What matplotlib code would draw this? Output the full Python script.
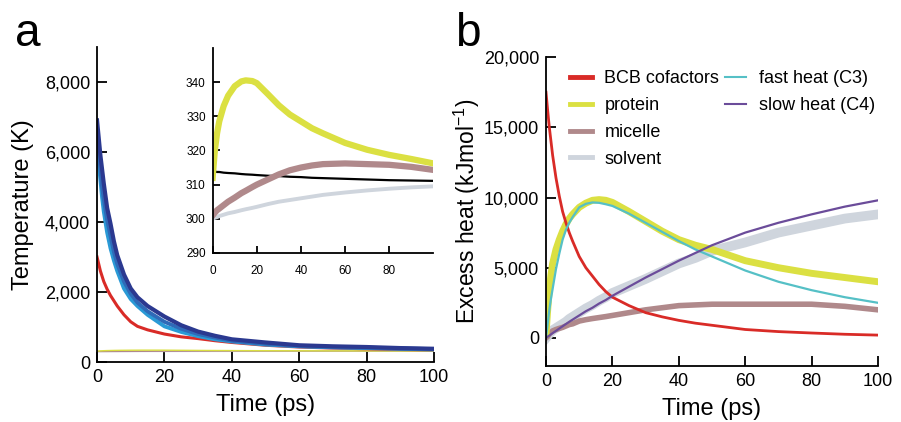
import matplotlib
matplotlib.use('Agg')
import matplotlib.pyplot as plt
from matplotlib.lines import Line2D
from matplotlib.ticker import StrMethodFormatter

plt.rcParams['font.family'] = ['Liberation Sans', 'DejaVu Sans']

# ---- panel a: temperature traces (K) ----
t_a = [0, 0.5, 1, 1.5, 2, 3, 4, 5, 6, 8, 10, 12, 15, 20, 25, 30, 35, 40, 50, 60, 70, 80, 90, 100]
temp_navy = [6900, 6400, 5900, 5500, 5100, 4400, 3950, 3450, 3050, 2500, 2100, 1850, 1600, 1300, 1050, 870,
             750, 650, 560, 480, 450, 430, 400, 380]
temp_blue = [6500, 6000, 5500, 5000, 4650, 4050, 3600, 3150, 2800, 2300, 1950, 1700, 1450, 1150, 950, 800,
             700, 610, 520, 460, 430, 410, 390, 370]
temp_sky = [6300, 5700, 5200, 4700, 4300, 3700, 3250, 2900, 2600, 2100, 1800, 1600, 1350, 1020, 860, 740,
            650, 590, 500, 450, 420, 400, 380, 360]
temp_red = [3000, 2800, 2600, 2450, 2300, 2080, 1900, 1750, 1600, 1350, 1150, 1020, 920, 800, 720, 670,
            610, 560, 480, 430, 400, 380, 360, 350]

# inset traces (K)
t_in = [0, 1, 2, 3, 5, 7, 10, 13, 15, 18, 20, 25, 30, 35, 40, 45, 50, 60, 70, 80, 90, 100]
in_protein = [312, 320, 325, 328.5, 333, 336, 338.8, 340.2, 340.5, 340.3, 339.7, 336.5, 333.2, 330.5, 328.5,
              326.5, 325, 322.2, 320.2, 318.7, 317.5, 316.2]
in_micelle = [301, 301.8, 302.5, 303, 304, 305, 306.2, 307.5, 308.2, 309.3, 310, 311.5, 313, 314.2, 315,
              315.6, 316, 316.2, 316, 315.8, 315.2, 314.3]
in_solvent = [300, 300.3, 300.5, 300.8, 301.2, 301.6, 302, 302.5, 302.8, 303.2, 303.5, 304.3, 305, 305.5, 306,
              306.5, 307, 307.7, 308.3, 308.8, 309.2, 309.5]
in_cofactor = [313.8, 313.8, 313.7, 313.7, 313.5, 313.4, 313.3, 313.1, 313.0, 312.9, 312.8, 312.6, 312.5,
               312.3, 312.2, 312.0, 311.9, 311.7, 311.5, 311.3, 311.2, 311.1]

# ---- panel b: excess heat (kJ/mol) ----
t_b = [0, 0.5, 1, 1.5, 2, 3, 4, 5, 6, 7, 8, 10, 12, 14, 16, 18, 20, 25, 30, 35, 40, 45, 50, 55, 60, 70, 80, 90, 100]
heat_bcb = [17500, 16200, 15000, 14000, 13000, 11400, 10100, 9000, 8200, 7500, 6900, 5800, 5000, 4400, 3800,
            3300, 2900, 2300, 1800, 1500, 1250, 1050, 900, 750, 600, 450, 350, 260, 200]
heat_protein = [300, 2000, 3500, 4500, 5300, 6300, 7000, 7600, 8100, 8500, 8800, 9300, 9600, 9800, 9850,
                9800, 9650, 9000, 8300, 7600, 7000, 6600, 6300, 5900, 5500, 5000, 4600, 4300, 4000]
heat_micelle = [0, 100, 300, 400, 500, 600, 680, 750, 850, 950, 1000, 1200, 1300, 1380, 1450, 1520, 1600,
                1800, 2000, 2150, 2300, 2350, 2400, 2400, 2400, 2400, 2400, 2250, 2000]
heat_solvent = [0, 150, 300, 420, 550, 700, 850, 1000, 1150, 1350, 1500, 1800, 2100, 2350, 2650, 2900, 3200,
                3700, 4200, 4750, 5300, 5700, 6200, 6500, 6800, 7500, 8000, 8500, 8800]
heat_fast = [0, 1000, 2000, 2800, 3500, 4900, 6000, 7000, 7700, 8200, 8600, 9300, 9550, 9650, 9620, 9520,
             9400, 8850, 8200, 7550, 6900, 6300, 5800, 5300, 4800, 4000, 3400, 2900, 2500]
heat_slow = [0, 85, 170, 255, 340, 500, 670, 830, 990, 1150, 1300, 1600, 1900, 2150, 2450, 2700, 3000, 3650,
             4300, 4900, 5500, 6050, 6600, 7050, 7500, 8200, 8800, 9350, 9800]

c_red = '#d92b27'
c_protein = '#dbe042'
c_micelle = '#b0898b'
c_solvent = '#cfd5dd'
c_fast = '#55c0c6'
c_slow = '#6b4c9a'

fig = plt.figure(figsize=(9.01, 4.22), dpi=100)


def style(ax, size, ticklen):
    for s in ['top', 'right']:
        ax.spines[s].set_visible(False)
    for s in ['left', 'bottom']:
        ax.spines[s].set_linewidth(1.3)
    ax.tick_params(direction='in', length=ticklen, width=1.3, labelsize=size, pad=5)


# panel a
ax_a = fig.add_axes([0.1077, 0.142, 0.374, 0.747])
ax_a.plot(t_in, in_solvent, color=c_solvent, lw=1)
ax_a.plot(t_in, in_micelle, color=c_micelle, lw=1)
ax_a.plot(t_in, in_protein, color=c_protein, lw=1)
ax_a.plot(t_a, temp_red, color=c_red, lw=2.2)
ax_a.plot(t_a, temp_sky, color='#2a9ad6', lw=2.8)
ax_a.plot(t_a, temp_blue, color='#2f6ab8', lw=2.8)
ax_a.plot(t_a, temp_navy, color='#2b3990', lw=3)
ax_a.set_xlim(0, 100)
ax_a.set_ylim(0, 9000)
ax_a.set_xticks([0, 20, 40, 60, 80, 100])
ax_a.set_yticks([0, 2000, 4000, 6000, 8000])
ax_a.yaxis.set_major_formatter(StrMethodFormatter('{x:,.0f}'))
ax_a.set_xlabel('Time (ps)', fontsize=17, labelpad=6)
ax_a.set_ylabel('Temperature (K)', fontsize=17, labelpad=8)
style(ax_a, 13, 7)

# inset
ax_in = fig.add_axes([0.236, 0.4005, 0.245, 0.486])
ax_in.plot(t_in, in_cofactor, color='black', lw=1.6)
ax_in.plot(t_in, in_solvent, color=c_solvent, lw=2.8)
ax_in.plot(t_in, in_micelle, color=c_micelle, lw=4.5)
ax_in.plot(t_in, in_protein, color=c_protein, lw=4.5)
ax_in.set_xlim(0, 100)
ax_in.set_ylim(290, 350)
ax_in.set_xticks([0, 20, 40, 60, 80])
ax_in.set_yticks([290, 300, 310, 320, 330, 340])
style(ax_in, 8.5, 5)
ax_in.tick_params(axis='x', pad=9)

# panel b
ax_b = fig.add_axes([0.606, 0.1327, 0.3685, 0.732])
ax_b.plot(t_b, heat_solvent, color=c_solvent, lw=7)
ax_b.plot(t_b, heat_micelle, color=c_micelle, lw=4)
ax_b.plot(t_b, heat_protein, color=c_protein, lw=5)
ax_b.plot(t_b, heat_bcb, color=c_red, lw=2)
ax_b.plot(t_b, heat_fast, color=c_fast, lw=1.6)
ax_b.plot(t_b, heat_slow, color=c_slow, lw=1.6)
ax_b.set_xlim(0, 100)
ax_b.set_ylim(-2000, 20000)
ax_b.set_xticks([0, 20, 40, 60, 80, 100])
ax_b.set_yticks([0, 5000, 10000, 15000, 20000])
ax_b.yaxis.set_major_formatter(StrMethodFormatter('{x:,.0f}'))
ax_b.set_xlabel('Time (ps)', fontsize=17, labelpad=6)
ax_b.set_ylabel('Excess heat (kJmol$^{\\mathregular{-1}}$)', fontsize=16.5, labelpad=1)
style(ax_b, 13, 7)

blank = Line2D([], [], alpha=0)
handles = [Line2D([], [], color=c_red, lw=3.5),
           Line2D([], [], color=c_protein, lw=3.5),
           Line2D([], [], color=c_micelle, lw=3.5),
           Line2D([], [], color=c_solvent, lw=3.5),
           Line2D([], [], color=c_fast, lw=1.5),
           Line2D([], [], color=c_slow, lw=1.5),
           blank, blank]
labels = ['BCB cofactors', 'protein', 'micelle', 'solvent',
          'fast heat (C3)', 'slow heat (C4)', '', '']
fig.legend(handles, labels, ncol=2, loc='upper left',
           bbox_to_anchor=(570 / 901, 1 - 70 / 422), frameon=False,
           fontsize=13, handlelength=1.2, handletextpad=0.7,
           columnspacing=0.3, labelspacing=0.55, borderpad=0, borderaxespad=0)

fig.text(15 / 901, 1 - 46 / 422, 'a', fontsize=33)
fig.text(455 / 901, 1 - 46 / 422, 'b', fontsize=33)

fig.savefig('out.png', dpi=100)
